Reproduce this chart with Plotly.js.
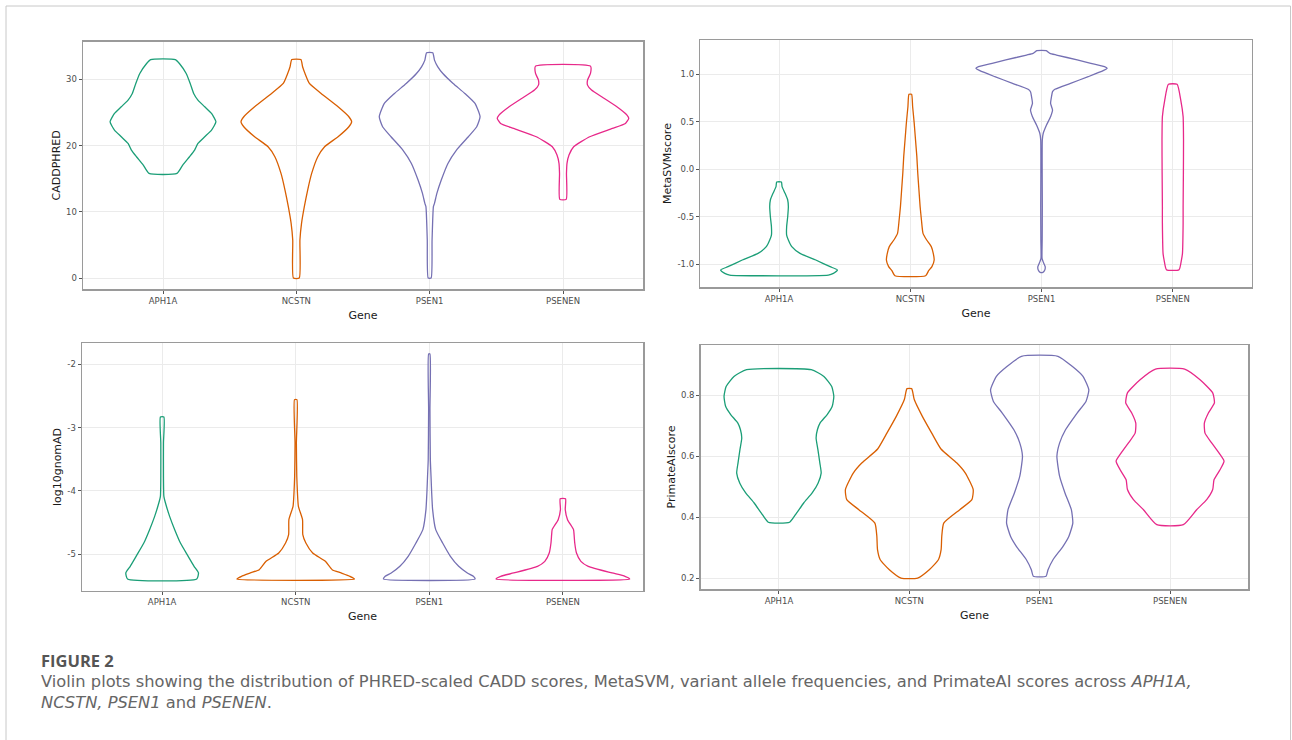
<!DOCTYPE html>
<html><head><meta charset="utf-8">
<script src="https://cdn.plot.ly/plotly-3.0.1.min.js"></script>
<style>html,body{margin:0;padding:0;background:#fff}#chart{width:1292px;height:740px}</style>
</head><body><div id="chart"></div>
<script>
// Categories and colours
const genes = ['APH1A', 'NCSTN', 'PSEN1', 'PSENEN'];
const geneColors = ['#1B9E77', '#D95F02', '#7570B3', '#E7298A'];

// ---- Panel 1: CADDPHRED (violin profiles: y levels, top->bottom, and half-widths) ----
const caddAPH1A_y = [33.0, 32.41, 30.90, 29.39, 27.88, 26.88, 25.87, 24.86, 23.60, 22.35, 21.34, 20.33, 19.33, 18.32, 17.06, 15.80];
const caddAPH1A_w = [0.093, 0.123, 0.174, 0.204, 0.230, 0.262, 0.313, 0.364, 0.397, 0.364, 0.313, 0.262, 0.237, 0.199, 0.148, 0.105];
const caddNCSTN_y = [33.0, 31.91, 30.90, 29.39, 27.88, 25.87, 24.36, 23.60, 22.85, 21.34, 19.83, 18.32, 15.80, 13.29, 10.77, 8.25, 5.74, 0.0];
const caddNCSTN_w = [0.034, 0.047, 0.065, 0.098, 0.186, 0.313, 0.394, 0.415, 0.394, 0.313, 0.212, 0.161, 0.115, 0.085, 0.060, 0.039, 0.027, 0.022];
const caddPSEN1_y = [34.02, 32.92, 31.91, 30.90, 29.39, 27.88, 26.37, 24.36, 22.85, 21.34, 19.33, 17.31, 14.80, 12.78, 11.27, 10.77, 5.74, 0.0];
const caddPSEN1_w = [0.023, 0.036, 0.061, 0.099, 0.176, 0.264, 0.340, 0.378, 0.353, 0.290, 0.201, 0.137, 0.087, 0.054, 0.036, 0.028, 0.018, 0.011];
const caddPSENEN_y = [32.01, 30.90, 29.90, 29.14, 28.39, 27.38, 25.87, 24.61, 24.11, 23.35, 22.60, 21.34, 19.83, 18.57, 17.31, 15.80, 11.88];
const caddPSENEN_w = [0.206, 0.206, 0.184, 0.184, 0.214, 0.290, 0.404, 0.480, 0.493, 0.468, 0.370, 0.200, 0.080, 0.045, 0.030, 0.026, 0.024];

// ---- Panel 2: MetaSVMscore ----
const svmAPH1A_y = [-0.134, -0.183, -0.253, -0.323, -0.393, -0.499, -0.604, -0.692, -0.744, -0.814, -0.885, -0.955, -1.025, -1.060, -1.095, -1.113];
const svmAPH1A_w = [0.018, 0.023, 0.046, 0.066, 0.071, 0.066, 0.058, 0.058, 0.071, 0.097, 0.160, 0.280, 0.389, 0.445, 0.414, 0.376];
const svmNCSTN_y = [0.789, 0.659, 0.484, 0.308, 0.133, -0.042, -0.218, -0.393, -0.534, -0.674, -0.744, -0.814, -0.885, -0.955, -1.025, -1.067, -1.120];
const svmNCSTN_w = [0.010, 0.018, 0.030, 0.040, 0.050, 0.057, 0.066, 0.075, 0.085, 0.097, 0.125, 0.160, 0.175, 0.182, 0.165, 0.140, 0.117];
const svmPSEN1_y = [1.249, 1.221, 1.203, 1.151, 1.115, 1.080, 1.063, 1.038, 0.975, 0.905, 0.842, 0.817, 0.765, 0.694, 0.624, 0.554, 0.466, 0.379, 0.308, -0.042, -0.393, -0.744, -0.937, -0.972, -1.025, -1.060, -1.085];
const svmPSEN1_w = [0.036, 0.064, 0.114, 0.272, 0.376, 0.480, 0.500, 0.470, 0.356, 0.221, 0.102, 0.084, 0.076, 0.069, 0.084, 0.069, 0.038, 0.013, 0.006, 0.005, 0.006, 0.005, 0.004, 0.012, 0.028, 0.025, 0.010];
const svmPSENEN_y = [0.894, 0.729, 0.554, 0.308, -0.042, -0.393, -0.569, -0.885, -0.955, -1.057];
const svmPSENEN_w = [0.033, 0.061, 0.079, 0.082, 0.081, 0.079, 0.079, 0.074, 0.066, 0.048];

// ---- Panel 3: log10gnomAD ----
const gnomAPH1A_y = [-2.832, -3.243, -3.769, -4.085, -4.190, -4.401, -4.611, -4.822, -5.032, -5.190, -5.295, -5.390];
const gnomAPH1A_w = [0.013, 0.010, 0.010, 0.013, 0.025, 0.056, 0.094, 0.137, 0.195, 0.239, 0.272, 0.259];
const gnomNCSTN_y = [-2.558, -3.243, -3.769, -4.032, -4.243, -4.453, -4.690, -4.822, -4.980, -5.111, -5.243, -5.295, -5.348, -5.390];
const gnomNCSTN_w = [0.009, 0.005, 0.008, 0.013, 0.020, 0.051, 0.053, 0.076, 0.127, 0.222, 0.273, 0.340, 0.406, 0.440];
const gnomPSEN1_y = [-1.837, -2.716, -3.506, -3.769, -4.032, -4.295, -4.611, -4.822, -5.032, -5.190, -5.295, -5.348, -5.390];
const gnomPSEN1_w = [0.005, 0.005, 0.008, 0.013, 0.018, 0.025, 0.048, 0.100, 0.158, 0.220, 0.285, 0.330, 0.343];
const gnomPSENEN_y = [-4.122, -4.295, -4.453, -4.611, -4.690, -4.822, -4.980, -5.111, -5.190, -5.295, -5.348, -5.390];
const gnomPSENEN_w = [0.020, 0.018, 0.035, 0.080, 0.084, 0.089, 0.102, 0.135, 0.190, 0.368, 0.465, 0.500];

// ---- Panel 4: PrimateAIscore ----
const paiAPH1A_y = [0.883, 0.861, 0.828, 0.796, 0.763, 0.736, 0.708, 0.686, 0.659, 0.621, 0.577, 0.544, 0.511, 0.479, 0.446, 0.413, 0.383];
const paiAPH1A_w = [0.248, 0.345, 0.405, 0.421, 0.409, 0.370, 0.315, 0.295, 0.285, 0.299, 0.314, 0.324, 0.300, 0.255, 0.190, 0.135, 0.082];
const paiNCSTN_y = [0.821, 0.785, 0.730, 0.675, 0.623, 0.577, 0.544, 0.490, 0.457, 0.424, 0.380, 0.337, 0.293, 0.260, 0.227, 0.200];
const paiNCSTN_w = [0.018, 0.038, 0.100, 0.172, 0.243, 0.365, 0.430, 0.490, 0.480, 0.387, 0.264, 0.249, 0.244, 0.223, 0.153, 0.064];
const paiPSEN1_y = [0.927, 0.894, 0.861, 0.817, 0.779, 0.741, 0.686, 0.643, 0.599, 0.533, 0.479, 0.424, 0.380, 0.337, 0.304, 0.260, 0.227, 0.206];
const paiPSEN1_w = [0.140, 0.249, 0.332, 0.377, 0.355, 0.287, 0.198, 0.153, 0.132, 0.153, 0.194, 0.243, 0.254, 0.224, 0.179, 0.102, 0.064, 0.049];
const paiPSENEN_y = [0.885, 0.850, 0.807, 0.774, 0.741, 0.708, 0.675, 0.643, 0.610, 0.583, 0.555, 0.522, 0.490, 0.457, 0.424, 0.375];
const paiPSENEN_w = [0.112, 0.230, 0.327, 0.340, 0.294, 0.263, 0.268, 0.319, 0.375, 0.414, 0.383, 0.337, 0.327, 0.281, 0.204, 0.102];

// Axis titles and ticks
const yTitles = ['CADDPHRED', 'MetaSVMscore', 'log10gnomAD', 'PrimateAIscore'];
const xTitle = 'Gene';
const ticks1 = [0, 10, 20, 30];
const tickText1 = ['0', '10', '20', '30'];
const ticks2 = [-1.0, -0.5, 0.0, 0.5, 1.0];
const tickText2 = ['-1.0', '-0.5', '0.0', '0.5', '1.0'];
const ticks3 = [-5, -4, -3, -2];
const tickText3 = ['-5', '-4', '-3', '-2'];
const ticks4 = [0.2, 0.4, 0.6, 0.8];
const tickText4 = ['0.2', '0.4', '0.6', '0.8'];

const captionHead = 'FIGURE 2';
const captionLine1 = 'Violin plots showing the distribution of PHRED-scaled CADD scores, MetaSVM, variant allele frequencies, and PrimateAI scores across <i>APH1A,</i>';
const captionLine2 = '<i>NCSTN, PSEN1</i> and <i>PSENEN</i>.';

const panels = [
  {ys:[caddAPH1A_y, caddNCSTN_y, caddPSEN1_y, caddPSENEN_y], ws:[caddAPH1A_w, caddNCSTN_w, caddPSEN1_w, caddPSENEN_w]},
  {ys:[svmAPH1A_y, svmNCSTN_y, svmPSEN1_y, svmPSENEN_y], ws:[svmAPH1A_w, svmNCSTN_w, svmPSEN1_w, svmPSENEN_w]},
  {ys:[gnomAPH1A_y, gnomNCSTN_y, gnomPSEN1_y, gnomPSENEN_y], ws:[gnomAPH1A_w, gnomNCSTN_w, gnomPSEN1_w, gnomPSENEN_w]},
  {ys:[paiAPH1A_y, paiNCSTN_y, paiPSEN1_y, paiPSENEN_y], ws:[paiAPH1A_w, paiNCSTN_w, paiPSEN1_w, paiPSENEN_w]}
];

function violin(center, ys, ws, color, xa, ya, name) {
  const x = [], y = [];
  for (let i = 0; i < ys.length; i++) { x.push(center + ws[i]); y.push(ys[i]); }
  for (let i = ys.length - 1; i >= 0; i--) { x.push(center - ws[i]); y.push(ys[i]); }
  x.push(x[0]); y.push(y[0]);
  return {type:'scatter', mode:'lines', name:name, x:x, y:y, xaxis:xa, yaxis:ya,
    fill:'toself', fillcolor:'rgba(255,255,255,0)',
    line:{color:color, width:1.3, shape:'spline', smoothing:0.5},
    hoverinfo:'name', showlegend:false};
}

const traces = [];
panels.forEach((p, pi) => {
  const xa = pi === 0 ? 'x' : 'x' + (pi + 1);
  const ya = pi === 0 ? 'y' : 'y' + (pi + 1);
  genes.forEach((g, gi) => traces.push(violin(gi + 1, p.ys[gi], p.ws[gi], geneColors[gi], xa, ya, g)));
});

const W = 1292, H = 740;
const px = v => v / W, py = v => (H - v) / H;

const tickFont = {family:'DejaVu Sans', size:8.5, color:'#4d4d4d'};
const titleFont = {family:'DejaVu Sans', size:11, color:'#1a1a1a'};
function xAxis(domain, anchor) {
  return {domain:domain, anchor:anchor, range:[0.4, 4.6], tickmode:'array', tickvals:[1,2,3,4], ticktext:genes,
    showline:true, mirror:true, linecolor:'#9a9a9a', linewidth:1.5, showgrid:true, gridcolor:'#ebebeb', gridwidth:1,
    zeroline:false, ticks:'outside', ticklen:3, tickwidth:1, tickcolor:'#555555', tickfont:tickFont,
    automargin:false, fixedrange:true, title:{text:xTitle, font:titleFont, standoff:6}};
}
function yAxis(domain, anchor, range, tv, tt, title) {
  return {domain:domain, anchor:anchor, range:range, tickmode:'array', tickvals:tv, ticktext:tt,
    showline:true, mirror:true, linecolor:'#9a9a9a', linewidth:1.5, showgrid:true, gridcolor:'#ebebeb', gridwidth:1,
    zeroline:false, ticks:'outside', ticklen:3, tickwidth:1, tickcolor:'#555555', tickfont:tickFont,
    automargin:false, fixedrange:true, title:{text:title, font:titleFont, standoff:3}};
}

const layout = {
  width:W, height:H, margin:{l:0, r:0, t:0, b:0}, paper_bgcolor:'#ffffff', plot_bgcolor:'#ffffff',
  showlegend:false,
  xaxis: xAxis([px(83), px(643)], 'y'),
  yaxis: yAxis([py(289), py(41.7)], 'x', [-1.66, 35.7], ticks1, tickText1, yTitles[0]),
  xaxis2: xAxis([px(700.3), px(1251.5)], 'y2'),
  yaxis2: yAxis([py(287), py(40)], 'x2', [-1.239, 1.361], ticks2, tickText2, yTitles[1]),
  xaxis3: xAxis([px(82), px(643)], 'y3'),
  yaxis3: yAxis([py(590.7), py(343.3)], 'x3', [-5.575, -1.668], ticks3, tickText3, yTitles[2]),
  xaxis4: xAxis([px(700.7), px(1248.3)], 'y4'),
  yaxis4: yAxis([py(589), py(345)], 'x4', [0.164, 0.964], ticks4, tickText4, yTitles[3]),
  shapes:[{type:'rect', xref:'paper', yref:'paper', x0:px(6), x1:px(1290.5), y0:-0.05, y1:py(6),
    line:{color:'#c8c8c8', width:1}, fillcolor:'rgba(0,0,0,0)', layer:'below'}],
  annotations:[
    {xref:'paper', yref:'paper', x:px(39), y:py(660), xanchor:'left', yanchor:'middle', showarrow:false,
     text:'<b>' + captionHead + '</b>', font:{family:'Open Sans', size:16.5, color:'#555555'}},
    {xref:'paper', yref:'paper', x:px(39), y:py(692), xanchor:'left', yanchor:'middle', align:'left', showarrow:false,
     text:captionLine1 + '<br>' + captionLine2, font:{family:'DejaVu Sans', size:16.3, color:'#666666'}}
  ]
};

Plotly.newPlot('chart', traces, layout, {displayModeBar:false, staticPlot:true});
</script>
</body></html>
